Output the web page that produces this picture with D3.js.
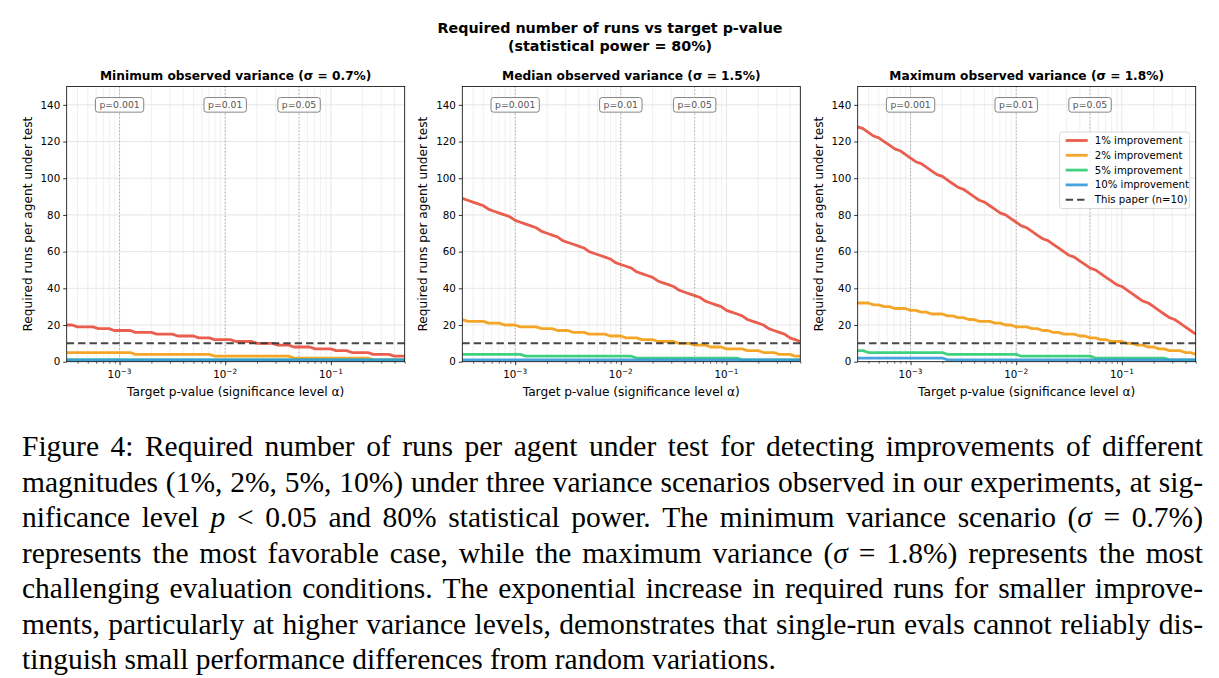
<!DOCTYPE html>
<html>
<head>
<meta charset="utf-8">
<script src="https://cdn.jsdelivr.net/npm/d3@7"></script>
<style>
body { margin: 0; background: #fff; }
svg text { font-family: "DejaVu Sans", sans-serif; }
svg text.caption { font-family: "Liberation Serif", "Times New Roman", serif; }
</style>
</head>
<body>
<div id="chart"></div>
<script>
// target p-values (x) shared by every series
var pValues = [0.000316, 0.000355, 0.000398, 0.000447, 0.000501, 0.000562, 0.000631, 0.000708, 0.000794, 0.000891,
    0.001, 0.00112, 0.00126, 0.00141, 0.00158, 0.00178, 0.002, 0.00224, 0.00251, 0.00282,
    0.00316, 0.00355, 0.00398, 0.00447, 0.00501, 0.00562, 0.00631, 0.00708, 0.00794, 0.00891,
    0.01, 0.0112, 0.0126, 0.0141, 0.0158, 0.0178, 0.02, 0.0224, 0.0251, 0.0282,
    0.0316, 0.0355, 0.0398, 0.0447, 0.0501, 0.0562, 0.0631, 0.0708, 0.0794, 0.0891,
    0.1, 0.112, 0.126, 0.141, 0.158, 0.178, 0.2, 0.224, 0.251, 0.282,
    0.316, 0.355, 0.398, 0.447, 0.5];

// minimum observed variance (sigma = 0.7%)
var minRuns1 = [20, 20, 19, 19, 19, 19, 18, 18, 18, 17, 17, 17, 17, 16, 16, 16, 16, 15, 15, 15,
    15, 14, 14, 14, 14, 13, 13, 13, 12, 12, 12, 12, 11, 11, 11, 11, 10, 10, 10, 10,
    9, 9, 9, 8, 8, 8, 8, 7, 7, 7, 7, 6, 6, 6, 5, 5, 5, 5, 4, 4, 4, 4, 3, 3, 3];
var minRuns2 = [5, 5, 5, 5, 5, 5, 5, 5, 5, 5, 5, 5, 5, 4, 4, 4, 4, 4, 4, 4,
    4, 4, 4, 4, 4, 4, 4, 4, 3, 3, 3, 3, 3, 3, 3, 3, 3, 3, 3, 3,
    3, 3, 3, 2, 2, 2, 2, 2, 2, 2, 2, 2, 2, 2, 2, 2, 2, 2, 1, 1, 1, 1, 1, 1, 1];
var minRuns5 = [1, 1, 1, 1, 1, 1, 1, 1, 1, 1, 1, 1, 1, 1, 1, 1, 1, 1, 1, 1,
    1, 1, 1, 1, 1, 1, 1, 1, 1, 1, 1, 1, 1, 1, 1, 1, 1, 1, 1, 1,
    1, 1, 1, 1, 1, 1, 1, 1, 1, 1, 1, 1, 1, 1, 1, 1, 1, 1, 1, 1, 1, 1, 1, 1, 1];
var minRuns10 = [1, 1, 1, 1, 1, 1, 1, 1, 1, 1, 1, 1, 1, 1, 1, 1, 1, 1, 1, 1,
    1, 1, 1, 1, 1, 1, 1, 1, 1, 1, 1, 1, 1, 1, 1, 1, 1, 1, 1, 1,
    1, 1, 1, 1, 1, 1, 1, 1, 1, 1, 1, 1, 1, 1, 1, 1, 1, 1, 1, 1, 1, 1, 1, 1, 1];

// median observed variance (sigma = 1.5%)
var medRuns1 = [89, 88, 87, 86, 85, 83, 82, 81, 80, 79, 77, 76, 75, 74, 73, 71, 70, 69, 68, 66,
    65, 64, 63, 62, 60, 59, 58, 57, 56, 54, 53, 52, 51, 49, 48, 47, 46, 44, 43, 42,
    41, 39, 38, 37, 36, 35, 33, 32, 31, 30, 28, 27, 26, 25, 23, 22, 21, 20, 18, 17, 16, 15, 13, 12, 11];
var medRuns2 = [23, 22, 22, 22, 22, 21, 21, 21, 20, 20, 20, 19, 19, 19, 19, 18, 18, 18, 17, 17,
    17, 16, 16, 16, 15, 15, 15, 15, 14, 14, 14, 13, 13, 13, 12, 12, 12, 11, 11, 11,
    11, 10, 10, 10, 9, 9, 9, 8, 8, 8, 7, 7, 7, 7, 6, 6, 6, 5, 5, 5, 4, 4, 4, 3, 3];
var medRuns5 = [4, 4, 4, 4, 4, 4, 4, 4, 4, 4, 4, 4, 3, 3, 3, 3, 3, 3, 3, 3,
    3, 3, 3, 3, 3, 3, 3, 3, 3, 3, 3, 3, 3, 2, 2, 2, 2, 2, 2, 2,
    2, 2, 2, 2, 2, 2, 2, 2, 2, 2, 2, 2, 2, 1, 1, 1, 1, 1, 1, 1, 1, 1, 1, 1, 1];
var medRuns10 = [1, 1, 1, 1, 1, 1, 1, 1, 1, 1, 1, 1, 1, 1, 1, 1, 1, 1, 1, 1,
    1, 1, 1, 1, 1, 1, 1, 1, 1, 1, 1, 1, 1, 1, 1, 1, 1, 1, 1, 1,
    1, 1, 1, 1, 1, 1, 1, 1, 1, 1, 1, 1, 1, 1, 1, 1, 1, 1, 1, 1, 1, 1, 1, 1, 1];

// maximum observed variance (sigma = 1.8%)
var maxRuns1 = [128, 127, 125, 123, 122, 120, 118, 116, 115, 113, 111, 109, 108, 106, 104, 102, 101, 99, 97, 95,
    94, 92, 90, 88, 87, 85, 83, 81, 80, 78, 76, 74, 73, 71, 69, 67, 66, 64, 62, 60,
    58, 57, 55, 53, 51, 50, 48, 46, 44, 42, 41, 39, 37, 35, 33, 32, 30, 28, 26, 24, 23, 21, 19, 17, 15];
var maxRuns2 = [32, 32, 32, 31, 31, 30, 30, 29, 29, 29, 28, 28, 27, 27, 26, 26, 26, 25, 25, 24,
    24, 23, 23, 22, 22, 22, 21, 21, 20, 20, 19, 19, 19, 18, 18, 17, 17, 16, 16, 15,
    15, 15, 14, 14, 13, 13, 12, 12, 11, 11, 11, 10, 10, 9, 9, 8, 8, 7, 7, 6, 6, 6, 5, 5, 4];
var maxRuns5 = [6, 6, 5, 5, 5, 5, 5, 5, 5, 5, 5, 5, 5, 5, 5, 5, 5, 4, 4, 4,
    4, 4, 4, 4, 4, 4, 4, 4, 4, 4, 4, 3, 3, 3, 3, 3, 3, 3, 3, 3,
    3, 3, 3, 3, 3, 2, 2, 2, 2, 2, 2, 2, 2, 2, 2, 2, 2, 2, 2, 1, 1, 1, 1, 1, 1];
var maxRuns10 = [2, 2, 2, 2, 2, 2, 2, 2, 2, 2, 2, 2, 2, 2, 2, 2, 2, 1, 1, 1,
    1, 1, 1, 1, 1, 1, 1, 1, 1, 1, 1, 1, 1, 1, 1, 1, 1, 1, 1, 1,
    1, 1, 1, 1, 1, 1, 1, 1, 1, 1, 1, 1, 1, 1, 1, 1, 1, 1, 1, 1, 1, 1, 1, 1, 1];

var panelTitles = ['Minimum observed variance (σ = 0.7%)',
    'Median observed variance (σ = 1.5%)',
    'Maximum observed variance (σ = 1.8%)'];
var panelSeries = [[minRuns1, minRuns2, minRuns5, minRuns10],
    [medRuns1, medRuns2, medRuns5, medRuns10],
    [maxRuns1, maxRuns2, maxRuns5, maxRuns10]];
var seriesLabels = ['1% improvement', '2% improvement', '5% improvement', '10% improvement'];
var seriesColors = ['#e74c3c', '#f39c12', '#2ecc71', '#3498db'];
var refPValues = [0.001, 0.01, 0.05];
var refLabels = ['p=0.001', 'p=0.01', 'p=0.05'];
var thisPaperRuns = 10;
var thisPaperLabel = 'This paper (n=10)';
var yTicks = [0, 20, 40, 60, 80, 100, 120, 140];
var xMajorTicks = [0.001, 0.01, 0.1];
var xTickExponents = ['−3', '−2', '−1'];
var mainTitle = ['Required number of runs vs target p-value', '(statistical power = 80%)'];
var xLabel = 'Target p-value (significance level α)';
var yLabel = 'Required runs per agent under test';

// *...* marks italic math symbols
var captionLines = [
    'Figure 4: Required number of runs per agent under test for detecting improvements of different',
    'magnitudes (1%, 2%, 5%, 10%) under three variance scenarios observed in our experiments, at sig-',
    'nificance level *p* < 0.05 and 80% statistical power. The minimum variance scenario (*σ* = 0.7%)',
    'represents the most favorable case, while the maximum variance (*σ* = 1.8%) represents the most',
    'challenging evaluation conditions. The exponential increase in required runs for smaller improve-',
    'ments, particularly at higher variance levels, demonstrates that single-run evals cannot reliably dis-',
    'tinguish small performance differences from random variations.'
];

var W = 1219, H = 678;
var panelLefts = [66.7, 462.3, 857.7];
var panelWidth = 338;
var plotTop = 86.5, plotHeight = 275.2;

var svg = d3.select('#chart').append('svg')
    .attr('width', W)
    .attr('height', H);

mainTitle.forEach(function(t, i) {
    svg.append('text')
        .attr('x', 610).attr('y', 33 + i * 18)
        .attr('text-anchor', 'middle')
        .attr('font-size', 14.3).attr('font-weight', 'bold')
        .text(t);
});

function drawPanel(i) {
    var g = svg.append('g')
        .attr('transform', 'translate(' + panelLefts[i] + ',' + plotTop + ')');
    var x = d3.scaleLog()
        .domain([pValues[0], pValues[pValues.length - 1]])
        .range([0, panelWidth]);
    var y = d3.scaleLinear().domain([0, 150]).range([plotHeight, 0]);

    g.append('clipPath').attr('id', 'clip' + i)
        .append('rect').attr('width', panelWidth).attr('height', plotHeight);

    // grid: minor + major verticals, major horizontals
    var allX = x.ticks();
    function isMajor(v) {
        return Math.abs(Math.log10(v) - Math.round(Math.log10(v))) < 1e-6;
    }
    g.selectAll('.vgrid').data(allX).enter().append('line')
        .attr('x1', x).attr('x2', x)
        .attr('y1', 0).attr('y2', plotHeight)
        .attr('stroke', function(d) { return isMajor(d) ? '#e3e3e3' : '#e9e9e9'; })
        .attr('stroke-width', function(d) { return isMajor(d) ? 0.9 : 0.7; });
    g.selectAll('.hgrid').data(yTicks).enter().append('line')
        .attr('x1', 0).attr('x2', panelWidth)
        .attr('y1', y).attr('y2', y)
        .attr('stroke', '#e3e3e3').attr('stroke-width', 0.9);

    // reference p-value lines
    g.selectAll('.ref').data(refPValues).enter().append('line')
        .attr('x1', x).attr('x2', x)
        .attr('y1', 0).attr('y2', plotHeight)
        .attr('stroke', '#a6a6a6').attr('stroke-width', 1)
        .attr('stroke-dasharray', '1.2,2.2');

    var line = d3.line()
        .x(function(d, j) { return x(pValues[j]); })
        .y(function(d) { return y(d); });

    var lines = g.append('g').attr('clip-path', 'url(#clip' + i + ')');
    panelSeries[i].forEach(function(s, k) {
        lines.append('path')
            .attr('d', line(s))
            .attr('fill', 'none')
            .attr('stroke', seriesColors[k])
            .attr('stroke-opacity', 0.9)
            .attr('stroke-width', 2.8)
            .attr('stroke-linejoin', 'round');
    });
    lines.append('line')
        .attr('x1', 0).attr('x2', panelWidth)
        .attr('y1', y(thisPaperRuns)).attr('y2', y(thisPaperRuns))
        .attr('stroke', '#333').attr('stroke-opacity', 0.9)
        .attr('stroke-width', 2).attr('stroke-dasharray', '7.4,4');

    // annotation boxes
    refPValues.forEach(function(p, k) {
        var a = g.append('g').attr('transform', 'translate(' + x(p) + ',' + y(140) + ')');
        var t = a.append('text')
            .attr('text-anchor', 'middle').attr('dy', '0.35em')
            .attr('font-size', 9.3).attr('fill', '#555')
            .text(refLabels[k]);
        var w = t.node().getComputedTextLength() + 8;
        a.insert('rect', 'text')
            .attr('x', -w / 2).attr('y', -7.3)
            .attr('width', w).attr('height', 14.6)
            .attr('rx', 2.5)
            .attr('fill', '#fff').attr('fill-opacity', 0.85)
            .attr('stroke', '#666').attr('stroke-width', 0.8);
    });

    // axes
    var yAxis = g.append('g')
        .call(d3.axisLeft(y).tickValues(yTicks).tickSize(3.5).tickPadding(3));
    yAxis.select('.domain').remove();
    yAxis.selectAll('text').attr('font-size', 10.3).attr('fill', '#000')
        .style('font-family', '"DejaVu Sans", sans-serif');
    yAxis.selectAll('line').attr('stroke-width', 0.8);

    var xAxis = g.append('g')
        .attr('transform', 'translate(0,' + plotHeight + ')')
        .call(d3.axisBottom(x).tickValues(allX).tickSize(2).tickFormat(''));
    xAxis.select('.domain').remove();
    xAxis.selectAll('line').attr('stroke-width', 0.6);
    xAxis.selectAll('.tick').filter(isMajor).select('line')
        .attr('y2', 3.5).attr('stroke-width', 0.8);

    xMajorTicks.forEach(function(v, k) {
        var t = g.append('text')
            .attr('x', x(v)).attr('y', plotHeight + 16.5)
            .attr('text-anchor', 'middle').attr('font-size', 10.3);
        t.append('tspan').text('10');
        t.append('tspan').attr('font-size', 7.3).attr('dy', -4.6).text(xTickExponents[k]);
    });

    g.append('rect')
        .attr('width', panelWidth).attr('height', plotHeight)
        .attr('fill', 'none').attr('stroke', '#000').attr('stroke-width', 0.8);

    g.append('text')
        .attr('x', panelWidth / 2).attr('y', -6.5)
        .attr('text-anchor', 'middle')
        .attr('font-size', 12.2).attr('font-weight', 'bold')
        .text(panelTitles[i]);
    g.append('text')
        .attr('x', panelWidth / 2).attr('y', plotHeight + 34)
        .attr('text-anchor', 'middle').attr('font-size', 12.2)
        .text(xLabel);
    g.append('text')
        .attr('transform', 'translate(-35,' + plotHeight / 2 + ') rotate(-90)')
        .attr('text-anchor', 'middle').attr('font-size', 12.2)
        .text(yLabel);

    if(i === 2)
        drawLegend(g);
}

function drawLegend(g) {
    var lg = g.append('g').attr('transform', 'translate(' + (panelWidth - 136) + ',45.5)');
    lg.append('rect')
        .attr('width', 130).attr('height', 76.5).attr('rx', 2.5)
        .attr('fill', '#fff').attr('fill-opacity', 0.85)
        .attr('stroke', '#d0d0d0').attr('stroke-width', 0.8);
    var labels = seriesLabels.concat([thisPaperLabel]);
    labels.forEach(function(l, k) {
        var yy = 8.5 + k * 14.8;
        lg.append('line')
            .attr('x1', 6).attr('x2', 28).attr('y1', yy).attr('y2', yy)
            .attr('stroke', k < 4 ? seriesColors[k] : '#333')
            .attr('stroke-opacity', 0.9)
            .attr('stroke-width', k < 4 ? 2.8 : 2)
            .attr('stroke-dasharray', k < 4 ? null : '7.4,4');
        lg.append('text')
            .attr('x', 35).attr('y', yy).attr('dy', '0.35em')
            .attr('font-size', 10.2)
            .text(l);
    });
}

[0, 1, 2].forEach(drawPanel);

// caption, justified like the LaTeX source
var capLeft = 22, capRight = 1203, capTop = 456, capStep = 35.5, capSize = 29.5;

function addToken(parent, tok) {
    var t = parent.append('text').attr('class', 'caption').attr('font-size', capSize);
    tok.split(/(\*[^*]+\*)/).forEach(function(part) {
        if(!part) return;
        if(part.charAt(0) === '*')
            t.append('tspan').attr('font-style', 'italic').text(part.slice(1, -1));
        else
            t.append('tspan').text(part);
    });
    return t;
}

var cap = svg.append('g');
captionLines.forEach(function(str, li) {
    var toks = str.split(' ');
    var els = toks.map(function(tok) { return addToken(cap, tok); });
    var widths = els.map(function(e) { return e.node().getComputedTextLength(); });
    var total = d3.sum(widths);
    var last = li === captionLines.length - 1;
    var space = last ? capSize * 0.25 : (capRight - capLeft - total) / (toks.length - 1);
    var xx = capLeft;
    els.forEach(function(e, k) {
        e.attr('x', xx).attr('y', capTop + li * capStep);
        xx += widths[k] + space;
    });
});
</script>
</body>
</html>
